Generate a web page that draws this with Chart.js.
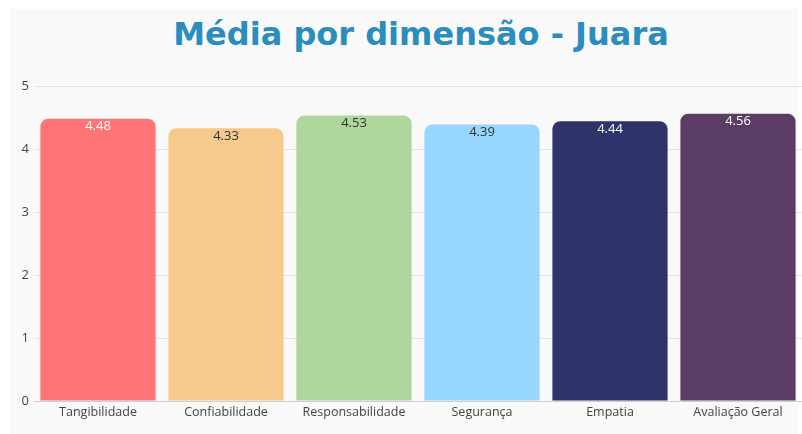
<!DOCTYPE html>
<html lang="pt">
<head>
    <meta charset="UTF-8" />
    <title>Média por dimensão - Juara</title>
    <script src="https://cdn.jsdelivr.net/npm/chart.js"></script>
    <style>
        html, body {
            margin: 0;
            padding: 0;
            background: #ffffff;
            overflow: hidden;
        }

        #panel {
            position: absolute;
            left: 10px;
            top: 9px;
            width: 788px;
            height: 425px;
            background: #f9f9f9;
        }

        #title {
            position: absolute;
            left: 0;
            top: 14px;
            width: 842px;
            text-align: center;
            font-family: "DejaVu Sans", sans-serif;
            font-weight: bold;
            font-size: 32px;
            line-height: 40px;
            color: #2b8cbe;
        }

        #wrap {
            position: absolute;
            left: 0;
            top: 0;
            width: 802px;
            height: 434px;
        }
    </style>
</head>
<body>
    <div id="panel"></div>
    <div id="title">Média por dimensão - Juara</div>
    <div id="wrap"><canvas id="chart"></canvas></div>

    <script>
        const categories = ["Tangibilidade", "Confiabilidade", "Responsabilidade", "Segurança", "Empatia", "Avaliação Geral"];
        const values = [4.48, 4.33, 4.53, 4.39, 4.44, 4.56];
        const barColors = ["#ff7474", "#f7c98d", "#afd69c", "#96d6ff", "#2f336b", "#5a3c64"];
        const labelColors = ["#ffffff", "#333333", "#333333", "#333333", "#ffffff", "#ffffff"];

        // value labels near the top of each bar
        const valueLabels = {
            id: "valueLabels",
            afterDatasetsDraw(chart) {
                const ctx = chart.ctx;
                const meta = chart.getDatasetMeta(0);
                ctx.save();
                ctx.font = "13px 'Open Sans', sans-serif";
                ctx.textAlign = "center";
                ctx.textBaseline = "middle";
                meta.data.forEach((bar, i) => {
                    ctx.fillStyle = labelColors[i];
                    ctx.fillText(values[i].toFixed(2), bar.x, bar.y + 8);
                });
                ctx.restore();
            }
        };

        const ctx = document.getElementById("chart").getContext("2d");
        new Chart(ctx, {
            type: "bar",
            data: {
                labels: categories,
                datasets: [{
                    data: values,
                    backgroundColor: barColors,
                    borderRadius: { topLeft: 8, topRight: 8 },
                    borderSkipped: "bottom",
                    barPercentage: 0.9,
                    categoryPercentage: 1.0
                }]
            },
            options: {
                responsive: true,
                maintainAspectRatio: false,
                animation: false,
                layout: { padding: { left: 10, right: 0, top: 86, bottom: 10 } },
                plugins: {
                    legend: { display: false },
                    tooltip: { enabled: false }
                },
                scales: {
                    x: {
                        grid: { display: false, drawTicks: false },
                        border: { display: true, color: "#cfcfcf" },
                        ticks: {
                            color: "#444444",
                            padding: 4,
                            font: { family: "'Open Sans', sans-serif", size: 12.5 }
                        }
                    },
                    y: {
                        min: 0,
                        max: 5,
                        afterFit(scale) { scale.width = 24; },
                        grid: { color: "#e4e4e4", drawTicks: false },
                        border: { display: false },
                        ticks: {
                            stepSize: 1,
                            color: "#444444",
                            padding: 5,
                            font: { family: "'Open Sans', sans-serif", size: 13 }
                        }
                    }
                }
            },
            plugins: [valueLabels]
        });
    </script>
</body>
</html>
